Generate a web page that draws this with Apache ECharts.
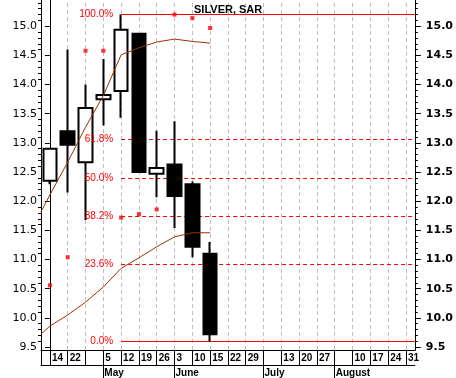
<!DOCTYPE html>
<html>
<head>
<meta charset="utf-8">
<script src="https://cdn.jsdelivr.net/npm/echarts@6/dist/echarts.min.js"></script>
<style>
  html, body { margin: 0; padding: 0; background: #fff; }
  #main { width: 456px; height: 378px; }
</style>
</head>
<body>
<div id="main"></div>
<script>
// weekly categories
const days = ["14", "22", "", "5", "12", "19", "26", "3", "10", "15", "22", "29", "", "13", "20", "27", "", "10", "17", "24", "31"];
const months = ["", "", "", "May", "", "", "", "June", "", "", "", "", "July", "", "", "", "August", "", "", "", ""];

// [open, close, low, high]
const candles = [
  [12.35, 12.90, 12.29, 12.90],
  [13.20, 12.97, 12.15, 14.60],
  [12.67, 13.60, 11.68, 14.00],
  [13.75, 13.82, 13.30, 14.44],
  [13.89, 14.94, 13.43, 15.20],
  [14.87, 12.50, 12.50, 14.87],
  [12.47, 12.57, 12.07, 13.21],
  [12.63, 12.09, 11.54, 13.37],
  [12.29, 11.22, 11.04, 12.34],
  [11.10, 9.72, 9.59, 11.30]
];

const sar = [10.56, 11.04, 14.58, 14.58, 11.72, 11.78, 11.86, 15.20, 15.14, 14.97];

// moving averages, [week position, value]
const maUpper = [[-0.5, 11.82], [0, 12.11], [1, 12.67], [2, 13.27], [3, 13.81], [4, 14.51], [5, 14.63], [6, 14.73], [7, 14.78], [8, 14.74], [9, 14.71]];
const maLower = [[-0.5, 9.72], [0, 9.86], [1, 10.05], [2, 10.27], [3, 10.53], [4, 10.85], [5, 11.03], [6, 11.22], [7, 11.39], [8, 11.46], [9, 11.46]];

// fibonacci retracement between swing high and low
const swingHigh = 15.2;
const swingLow = 9.6;
const swingStart = 4;
const fibRatios = [0, 0.236, 0.382, 0.5, 0.618, 1];

const yTicks = [9.5, 10.0, 10.5, 11.0, 11.5, 12.0, 12.5, 13.0, 13.5, 14.0, 14.5, 15.0];

let yMinor = [];
for (let i = 95; i <= 154; i++) {
  if (i % 5 !== 0) yMinor.push(i / 10);
}

const myChart = echarts.init(document.getElementById("main"));

function fibData(withLine) {
  return fibRatios.map((r) => {
    const price = swingLow + r * (swingHigh - swingLow);
    const solid = r === 0 || r === 1;
    return [
      {
        coord: [swingStart, price],
        lineStyle: withLine
          ? { color: "#ff0000", width: 1, type: solid ? "solid" : [4, 3] }
          : { color: "rgba(255,255,255,0)", width: 1 },
        label: { show: !withLine, formatter: (r * 100).toFixed(1) + "%" }
      },
      { coord: [20.5, price] }
    ];
  });
}

// dashed vertical line on every week
const weekLines = days.map((d, i) => ({
  xAxis: i,
  lineStyle: { color: "#c0c0c0", width: 1, type: [4, 3] },
  label: { show: false }
}));

const yBase = {
  type: "value",
  min: 9.45,
  max: 15.45,
  splitLine: { show: false },
  axisLine: { show: true, lineStyle: { color: "#000", width: 1 } }
};

const boldSmall = {
  color: "#000",
  fontSize: 10,
  fontWeight: "bold",
  fontFamily: "Liberation Sans"
};

let option = {
  animation: false,
  title: {
    text: "SILVER, SAR",
    left: 194,
    top: 4,
    padding: 0,
    textStyle: { fontSize: 11, fontWeight: "bold", fontFamily: "Liberation Sans", color: "#000" }
  },
  grid: { left: 41, right: 41, top: 0, bottom: 28 },
  xAxis: [
    {
      type: "category",
      data: days,
      boundaryGap: true,
      axisLine: { show: true, lineStyle: { color: "#000", width: 1 } },
      axisTick: { show: true, alignWithLabel: true, interval: 0, length: 15, lineStyle: { color: "#000" } },
      axisLabel: Object.assign({ interval: 0, align: "left", margin: 3, padding: [0, 0, 0, 2] }, boldSmall),
      splitLine: { show: false }
    },
    {
      type: "category",
      data: months,
      position: "bottom",
      offset: 15,
      boundaryGap: true,
      axisLine: { show: true, lineStyle: { color: "#000", width: 1 } },
      axisTick: {
        show: true,
        alignWithLabel: true,
        length: 13,
        interval: (i) => months[i] !== "",
        lineStyle: { color: "#000" }
      },
      axisLabel: Object.assign({ interval: (i) => months[i] !== "", align: "left", margin: 3, padding: [0, 0, 0, 1] }, boldSmall),
      splitLine: { show: false }
    },
    {
      type: "value",
      min: -0.5,
      max: 20.5,
      position: "top",
      axisLine: { show: false },
      axisLabel: { show: false },
      axisTick: { show: false },
      splitLine: { show: false }
    }
  ],
  yAxis: [
    Object.assign({}, yBase, {
      position: "left",
      axisTick: { show: true, customValues: yTicks, length: 5, lineStyle: { color: "#000" } },
      axisLabel: {
        customValues: yTicks,
        formatter: (v) => v.toFixed(1),
        margin: 4,
        color: "#000",
        fontSize: 11,
        fontFamily: "DejaVu Sans"
      }
    }),
    Object.assign({}, yBase, {
      position: "left",
      axisTick: { show: true, customValues: yMinor, length: 3, lineStyle: { color: "#000" } },
      axisLabel: { show: false }
    }),
    Object.assign({}, yBase, {
      position: "right",
      axisTick: { show: true, customValues: yTicks, length: 6, lineStyle: { color: "#000" } },
      axisLabel: {
        customValues: yTicks,
        formatter: (v) => v.toFixed(1),
        margin: 11,
        color: "#000",
        fontSize: 11,
        fontWeight: "bold",
        fontFamily: "DejaVu Sans"
      }
    }),
    Object.assign({}, yBase, {
      position: "right",
      axisTick: { show: true, customValues: yMinor, length: 3, lineStyle: { color: "#000" } },
      axisLabel: { show: false }
    })
  ],
  series: [
    {
      name: "grid",
      type: "line",
      xAxisIndex: 2,
      yAxisIndex: 0,
      data: [],
      z: 0,
      markLine: {
        silent: true,
        symbol: "none",
        animation: false,
        z: 0,
        data: weekLines
      }
    },
    {
      name: "fib",
      type: "line",
      xAxisIndex: 2,
      yAxisIndex: 0,
      data: [],
      z: 1,
      markLine: {
        silent: true,
        symbol: "none",
        animation: false,
        z: 1,
        data: fibData(true)
      }
    },
    {
      name: "SILVER",
      type: "candlestick",
      xAxisIndex: 0,
      yAxisIndex: 0,
      barWidth: 14,
      data: candles,
      z: 3,
      itemStyle: {
        color: "#fff",
        color0: "#000",
        borderColor: "#000",
        borderColor0: "#000",
        borderWidth: 2
      }
    },
    {
      name: "ma1",
      type: "line",
      xAxisIndex: 2,
      yAxisIndex: 0,
      data: maUpper,
      showSymbol: false,
      z: 4,
      lineStyle: { color: "#993300", width: 1 }
    },
    {
      name: "ma2",
      type: "line",
      xAxisIndex: 2,
      yAxisIndex: 0,
      data: maLower,
      showSymbol: false,
      z: 4,
      lineStyle: { color: "#993300", width: 1 }
    },
    {
      name: "SAR",
      type: "scatter",
      xAxisIndex: 0,
      yAxisIndex: 0,
      data: sar,
      symbol: "rect",
      symbolSize: 4,
      z: 5,
      itemStyle: { color: "#ff0000" }
    },
    {
      name: "fibLabels",
      type: "line",
      xAxisIndex: 2,
      yAxisIndex: 0,
      data: [],
      z: 6,
      markLine: {
        silent: true,
        symbol: "none",
        animation: false,
        z: 6,
        label: {
          position: "start",
          distance: 8,
          color: "#ff0000",
          opacity: 1,
          fontSize: 10,
          fontFamily: "Liberation Sans"
        },
        data: fibData(false)
      }
    }
  ],
  graphic: [
    {
      type: "line",
      shape: { x1: 41.5, y1: 350, x2: 41.5, y2: 365 },
      style: { stroke: "#000", lineWidth: 1 }
    }
  ]
};

myChart.setOption(option);
</script>
</body>
</html>
